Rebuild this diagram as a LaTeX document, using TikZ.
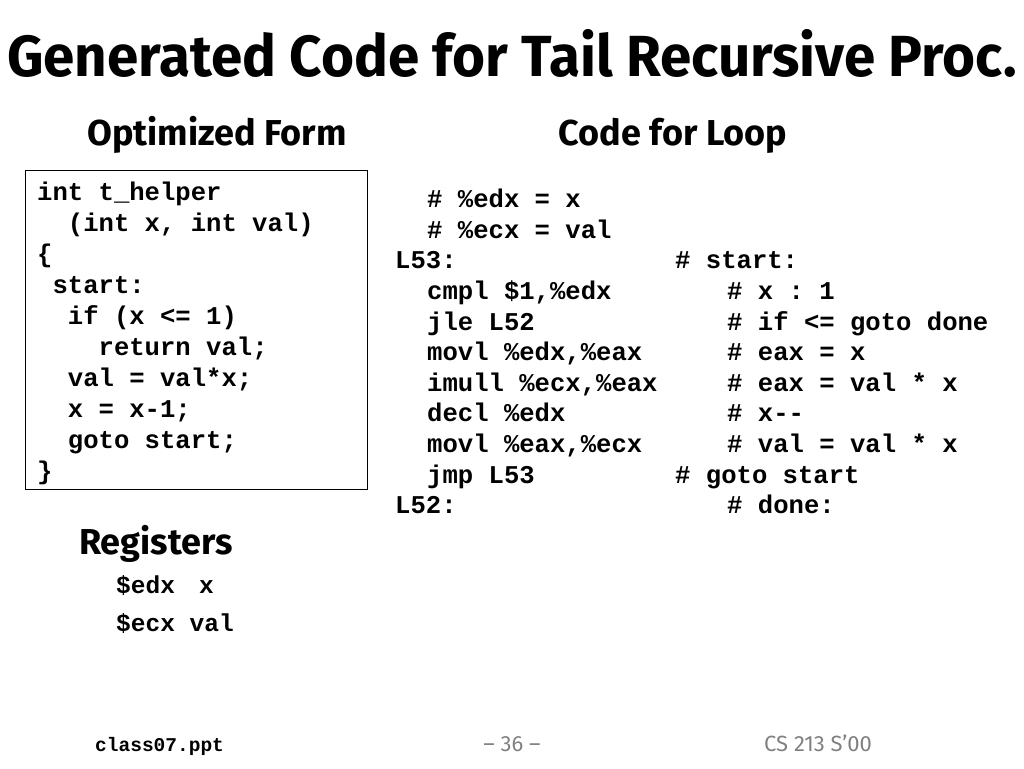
\documentclass[tikz,border=0pt]{standalone}
\usepackage{fontspec}
\setmainfont{Fira Sans}
\setmonofont{Liberation Mono}
\usepackage{graphicx}
\usepackage{tikz}
\definecolor{slidegray}{RGB}{128, 128, 128}

\tikzset{
  code/.style={anchor=base west, inner sep=0pt, font=\ttfamily\bfseries\fontsize{25.6}{30}\selectfont},
  head/.style={anchor=base, inner sep=0pt, font=\bfseries\fontsize{36}{38}\selectfont},
  foot/.style={anchor=base, inner sep=0pt, text=slidegray, font=\fontsize{22}{23}\selectfont}
}

\begin{document}
\begin{tikzpicture}[x=1pt, y=-1pt]
            \useasboundingbox (0,0) rectangle (1024,768);
            % title and column heads
            \node[head, font=\bfseries\fontsize{58}{60}\selectfont] (title) at (512,76) {\scalebox{0.975}[1]{Generated Code for Tail Recursive Proc.}};
            \node[head] (opthead)  at (217,145) {Optimized Form};
            \node[head] (loophead) at (673,145) {Code for Loop};
            % optimized C form
            \draw[thick] (25,170) rectangle (367,489);
            \node[code] (c1)  at (37,200) {int t\_helper};
            \node[code] (c2)  at (37,231) {~~(int x, int val)};
            \node[code] (c3)  at (37,262) {\{};
            \node[code] (c4)  at (37,293) {~start:};
            \node[code] (c5)  at (37,324) {~~if (x <= 1)};
            \node[code] (c6)  at (37,355) {~~~~return val;};
            \node[code] (c7)  at (37,386) {~~val = val*x;};
            \node[code] (c8)  at (37,417) {~~x = x-1;};
            \node[code] (c9)  at (37,448) {~~goto start;};
            \node[code] (c10) at (37,479) {\}};
            % assembly loop
            \node[code] (a1)  at (427,207) {\# \%edx = x};
            \node[code] (a2)  at (427,238) {\# \%ecx = val};
            \node[code] (a3)  at (395,268) {L53:};
            \node[code] (a4)  at (427,299) {cmpl \$1,\%edx};
            \node[code] (a5)  at (427,330) {jle L52};
            \node[code] (a6)  at (427,360) {movl \%edx,\%eax};
            \node[code] (a7)  at (427,391) {imull \%ecx,\%eax};
            \node[code] (a8)  at (427,421) {decl \%edx};
            \node[code] (a9)  at (427,452) {movl \%eax,\%ecx};
            \node[code] (a10) at (427,483) {jmp L53};
            \node[code] (a11) at (395,513) {L52:};
            \node[code] (m3)  at (675,268) {\# start:};
            \node[code] (m4)  at (727,299) {\# x : 1};
            \node[code] (m5)  at (727,330) {\# if <= goto done};
            \node[code] (m6)  at (727,360) {\# eax = x};
            \node[code] (m7)  at (727,391) {\# eax = val * x};
            \node[code] (m8)  at (727,421) {\# x-{}-};
            \node[code] (m9)  at (727,452) {\# val = val * x};
            \node[code] (m10) at (675,483) {\# goto start};
            \node[code] (m11) at (727,513) {\# done:};
            % registers
            \node[head, anchor=base west] (reghead) at (79,554) {Registers};
            \node[code, font=\ttfamily\bfseries\fontsize{24.5}{30}\selectfont] (r1) at (116,593) {\$edx};
            \node[code, font=\ttfamily\bfseries\fontsize{24.5}{30}\selectfont] (v1) at (199,593) {x};
            \node[code, font=\ttfamily\bfseries\fontsize{24.5}{30}\selectfont] (r2) at (116,631) {\$ecx val};
            % footer
            \node[code, text=black, font=\ttfamily\bfseries\fontsize{19.5}{20}\selectfont] (file) at (95,751) {class07.ppt};
            \node[foot] (page) at (512,751) {– 36 –};
            \node[foot, anchor=base east] (course) at (872,751) {CS 213 S’00};
        \end{tikzpicture}
\end{document}
